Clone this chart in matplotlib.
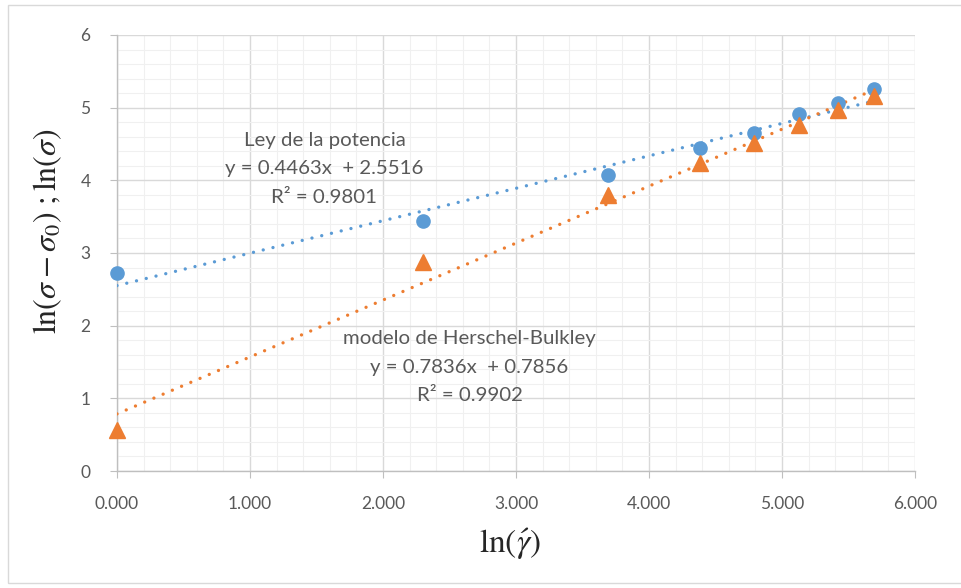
import matplotlib

matplotlib.use("Agg")

import matplotlib.pyplot as plt
import matplotlib.patches as patches
import numpy as np
from matplotlib.ticker import MultipleLocator, FormatStrFormatter

# ln(shear rate)
ln_gamma = [0.0, 2.30, 3.69, 4.38, 4.79, 5.13, 5.42, 5.69]
# ln(sigma) -> ley de la potencia
ln_sigma = [2.73, 3.44, 4.07, 4.44, 4.65, 4.91, 5.07, 5.26]
# ln(sigma - sigma0) -> Herschel-Bulkley
ln_sigma_hb = [0.57, 2.87, 3.80, 4.24, 4.51, 4.76, 4.97, 5.16]

power_fit = (0.4463, 2.5516)
hb_fit = (0.7836, 0.7856)

power_lines = ["Ley de la potencia", "y = 0.4463x  + 2.5516", "R² = 0.9801"]
hb_lines = ["modelo de Herschel-Bulkley", "y = 0.7836x  + 0.7856", "R² = 0.9902"]

BLUE = "#5B9BD5"
ORANGE = "#ED7D31"
GRAY_TEXT = "#595959"

plt.rcParams["font.family"] = ["Lato", "DejaVu Sans"]
plt.rcParams["mathtext.fontset"] = "stix"

fig = plt.figure(figsize=(9.62, 5.88), dpi=100)
ax = fig.add_axes([117 / 962, 1 - 471 / 588, (915 - 117) / 962, (471 - 35) / 588])

# outer chart frame
fig.patches.append(patches.Rectangle((8 / 962, 5 / 588), 1.0, 578 / 588, transform=fig.transFigure,
                                     fill=False, edgecolor="#D9D9D9", linewidth=1.0))

dotted = (0, (0.01, 3.0))
x_fit = np.array([0.0, max(ln_gamma)])
ax.plot(x_fit, power_fit[0] * x_fit + power_fit[1], linestyle=dotted, color=BLUE,
        linewidth=2.4, dash_capstyle="round", zorder=3)
ax.plot(x_fit, hb_fit[0] * x_fit + hb_fit[1], linestyle=dotted, color=ORANGE,
        linewidth=2.4, dash_capstyle="round", zorder=3)

ax.plot(ln_gamma, ln_sigma, "o", color=BLUE, markersize=9.5, zorder=4, clip_on=False)
ax.plot(ln_gamma, ln_sigma_hb, "^", color=ORANGE, markersize=11, zorder=5, clip_on=False)

ax.set_xlim(0, 6)
ax.set_ylim(0, 6)
ax.xaxis.set_major_locator(MultipleLocator(1))
ax.xaxis.set_minor_locator(MultipleLocator(0.2))
ax.yaxis.set_major_locator(MultipleLocator(1))
ax.yaxis.set_minor_locator(MultipleLocator(0.2))
ax.xaxis.set_major_formatter(FormatStrFormatter("%.3f"))

ax.grid(which="major", color="#D9D9D9", linewidth=1.0)
ax.grid(which="minor", color="#F0F0F0", linewidth=0.8)
ax.set_axisbelow(True)

for side in ("top", "right"):
    ax.spines[side].set_visible(False)
for side in ("left", "bottom"):
    ax.spines[side].set_color("#BFBFBF")
    ax.spines[side].set_linewidth(1.0)

ax.tick_params(which="major", length=5, color="#BFBFBF", labelcolor=GRAY_TEXT, labelsize=12.5)
ax.tick_params(axis="x", pad=13)
ax.tick_params(axis="y", pad=14)
ax.tick_params(which="minor", length=0)

ax.set_xlabel(r"$\ln(\acute{\gamma})$", fontsize=24, color="#262626")
ax.set_ylabel(r"$\ln(\sigma - \sigma_0)\ ;\ln(\sigma)$", fontsize=23, color="#262626")
ax.xaxis.set_label_coords(0.4925, -0.128)
ax.yaxis.set_label_coords(-0.066, 0.55)

line_step = 0.39
for i, line in enumerate(power_lines):
    ax.text(1.56, 4.55 - i * line_step, line, ha="center", va="center", fontsize=14.7, color=GRAY_TEXT)
for i, line in enumerate(hb_lines):
    ax.text(2.65, 1.82 - i * line_step, line, ha="center", va="center", fontsize=14.7, color=GRAY_TEXT)

fig.savefig("out.png", dpi=100)
plt.close(fig)
